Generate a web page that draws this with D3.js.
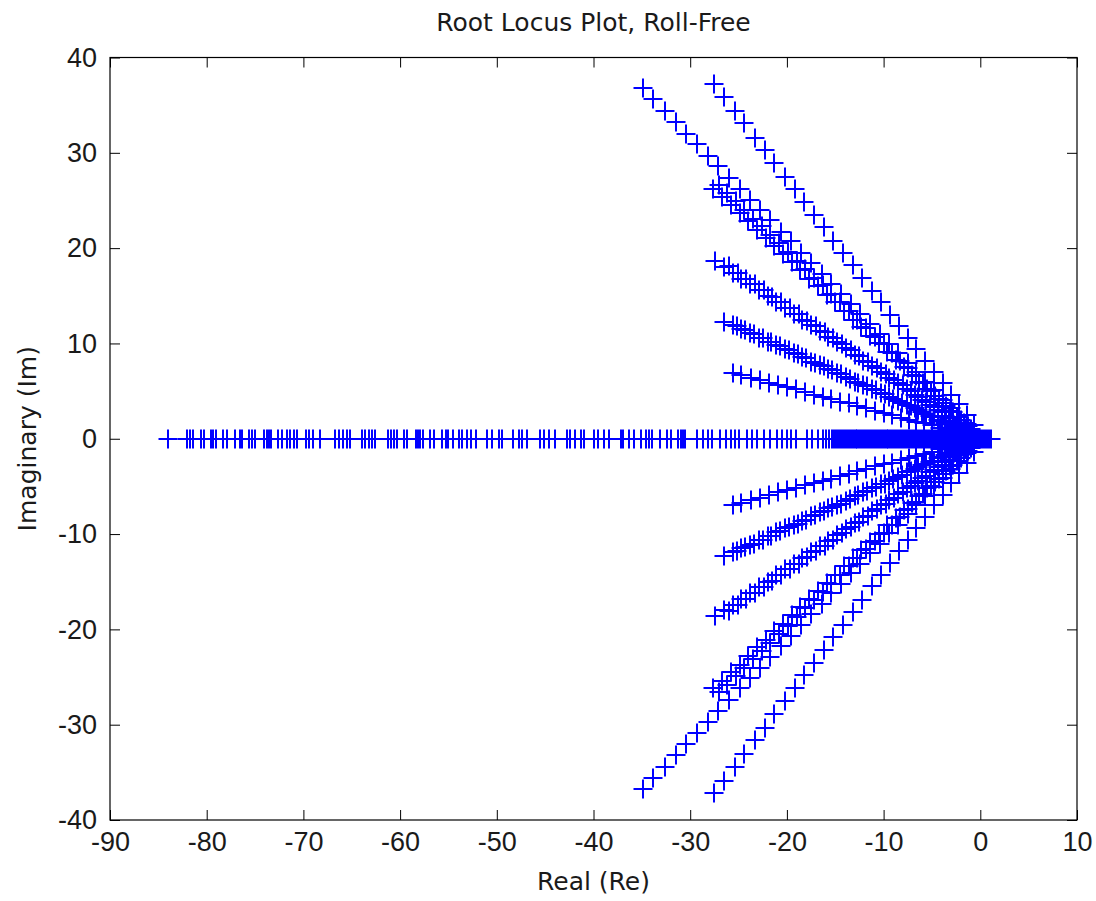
<!DOCTYPE html>
<html>
<head>
<meta charset="utf-8">
<script src="https://cdn.jsdelivr.net/npm/d3@7"></script>
<style>
  html, body { margin: 0; padding: 0; background: #fff; }
  svg { display: block; }
</style>
</head>
<body>
<div id="chart"></div>
<script>
// ---------- DATA ----------
const xTicks = [-90, -80, -70, -60, -50, -40, -30, -20, -10, 0, 10];
const yTicks = [-40, -30, -20, -10, 0, 10, 20, 30, 40];

// Roots on the real axis (Re values, Im = 0)
const realRoots = [-84.0, -82.0, -81.7, -81.4, -80.6, -80.3, -79.6, -79.4, -79.0, -78.3, -77.9, -77.1, -76.6, -76.3,
  -75.6, -75.3, -75.0, -74.1, -73.8, -73.6, -73.4, -72.6, -72.2, -71.7, -71.4, -71.0, -70.7, -69.7, -69.4, -69.0,
  -68.3, -66.7, -66.3, -65.9, -65.5, -65.2, -63.9, -63.6, -63.2, -62.9, -62.6, -61.2, -60.9, -60.6, -60.3, -59.6,
  -59.3, -58.4, -58.1, -57.9, -57.6, -56.9, -56.5, -55.7, -55.3, -55.0, -54.5, -53.9, -53.6, -53.1, -52.7, -52.2,
  -51.0, -50.5, -49.8, -49.5, -48.3, -47.7, -47.4, -46.9, -45.5, -45.1, -44.6, -44.0, -42.7, -42.4, -41.9, -41.3,
  -41.0, -40.0, -39.5, -38.9, -38.4, -37.2, -36.9, -36.3, -35.8, -35.1, -34.6, -34.3, -33.9, -33.1, -32.4, -32.0,
  -31.3, -31.0, -30.7, -30.5, -29.3, -28.7, -28.2, -27.7, -26.9, -26.3, -25.8, -25.4, -25.0, -24.1, -23.6, -23.1,
  -22.4, -21.7, -21.0, -20.5, -20.0, -19.6, -19.1, -17.9, -17.4, -16.8, -16.3, -16.0, -15.6,
  -15.3, -15.1, -14.9, -14.7, -14.5, -14.3, -14.1, -13.9, -13.7, -13.5, -13.3, -13.1, -12.9, -12.7, -12.5, -12.3,
  -12.1, -11.9, -11.7, -11.5, -11.3, -11.1, -10.9, -10.7, -10.5, -10.3, -10.1, -9.9, -9.7, -9.5, -9.3, -9.1,
  -8.9, -8.7, -8.5, -8.3, -8.1, -7.9, -7.7, -7.5, -7.3, -7.1, -6.9, -6.7, -6.5, -6.3, -6.1, -5.9, -5.7, -5.5,
  -5.3, -5.1, -4.9, -4.7, -4.5, -4.3, -4.1, -3.9, -3.7, -3.5, -3.3, -3.1, -2.9, -2.7, -2.5, -2.3, -2.1, -1.9,
  -1.7, -1.5, -1.3, -1.1, -0.9, -0.7, -0.5, -0.3, -0.1, 0.1, 0.3, 0.5, 0.7, 0.9, 1.1];

// Complex branches (upper half, Im > 0); each root has its conjugate in the lower half
const branchB_re = [-27.5, -26.5, -25.4, -24.4, -23.3, -22.3, -21.3, -20.2, -19.2, -18.2, -17.2, -16.2, -15.2, -14.2,
  -13.2, -12.2, -11.2, -10.3, -9.3, -8.4, -7.5, -6.6, -5.7, -4.8, -3.9, -3.0, -2.2, -1.4, -0.6];
const branchB_im = [37.2, 35.9, 34.4, 33.1, 31.6, 30.3, 28.9, 27.5, 26.2, 24.8, 23.5, 22.2, 20.8, 19.5,
  18.2, 16.9, 15.5, 14.3, 13.0, 11.8, 10.6, 9.4, 8.2, 7.0, 5.9, 4.6, 3.6, 2.5, 1.4];

const branchA_re = [-34.9, -33.8, -32.6, -31.5, -30.4, -29.3, -28.2, -27.1, -26.0, -24.9, -23.8, -22.8, -21.7, -20.6,
  -19.6, -18.5, -17.5, -16.4, -15.4, -14.4, -13.4, -12.4, -11.4, -10.4, -9.4, -8.5, -7.5, -6.6, -5.7, -4.8, -3.9,
  -3.0, -2.2, -1.4];
const branchA_im = [36.8, 35.6, 34.4, 33.2, 32.0, 30.9, 29.7, 28.6, 27.4, 26.2, 25.1, 24.0, 22.9, 21.7,
  20.7, 19.5, 18.4, 17.3, 16.2, 15.2, 14.1, 13.1, 12.0, 11.0, 9.9, 9.0, 7.9, 7.0, 6.0, 5.1, 4.1,
  3.2, 2.3, 1.5];

const branchC1_re = [-27.6, -26.7, -25.8, -24.9, -24.0, -23.1, -22.2, -21.3, -20.4, -19.5, -18.6, -17.7, -16.8, -15.9,
  -15.0, -14.1, -13.2, -12.3, -11.4, -10.5, -9.6, -8.7, -7.9, -7.1, -6.3, -5.5, -4.7, -3.9, -3.1, -2.4, -1.7, -1.0];
const branchC1_im = [26.2, 25.4, 24.5, 23.7, 22.8, 21.9, 21.1, 20.2, 19.4, 18.5, 17.7, 16.8, 16.0, 15.1,
  14.3, 13.4, 12.5, 11.7, 10.8, 10.0, 9.1, 8.3, 7.5, 6.7, 6.0, 5.2, 4.5, 3.7, 2.9, 2.3, 1.6, 1.0];

const branchC2_re = [-27.0, -26.2, -25.3, -24.4, -23.5, -22.6, -21.7, -20.8, -19.9, -19.0, -18.1, -17.2, -16.3, -15.4,
  -14.5, -13.6, -12.7, -11.8, -10.9, -10.0, -9.1, -8.3, -7.5, -6.7, -5.9, -5.1, -4.3, -3.5, -2.8, -2.0, -1.3];
const branchC2_im = [26.6, 25.8, 24.9, 24.0, 23.1, 22.3, 21.4, 20.5, 19.6, 18.7, 17.8, 16.9, 16.1, 15.2,
  14.3, 13.4, 12.5, 11.6, 10.7, 9.9, 9.0, 8.2, 7.4, 6.6, 5.8, 5.0, 4.2, 3.4, 2.8, 2.0, 1.3];

const branchD1_re = [-27.4, -26.5, -25.6, -24.7, -23.8, -22.9, -22.0, -21.1, -20.2, -19.3, -18.4, -17.5, -16.6, -15.7,
  -14.8, -13.9, -13.0, -12.1, -11.2, -10.3, -9.4, -8.5, -7.6, -6.8, -6.0, -5.2, -4.4, -3.6, -2.8, -2.0, -1.2];
const branchD1_im = [18.6, 18.0, 17.4, 16.8, 16.2, 15.6, 15.0, 14.3, 13.7, 13.1, 12.5, 11.9, 11.3, 10.7,
  10.1, 9.5, 8.8, 8.2, 7.6, 7.0, 6.4, 5.8, 5.2, 4.6, 4.1, 3.5, 3.0, 2.4, 1.9, 1.4, 0.8];

const branchD2_re = [-26.0, -25.1, -24.2, -23.3, -22.4, -21.5, -20.6, -19.7, -18.8, -17.9, -17.0, -16.1, -15.2, -14.3,
  -13.4, -12.5, -11.6, -10.7, -9.8, -8.9, -8.0, -7.2, -6.4, -5.6, -4.8, -4.0, -3.2, -2.4, -1.6];
const branchD2_im = [18.1, 17.4, 16.8, 16.2, 15.6, 14.9, 14.3, 13.7, 13.1, 12.4, 11.8, 11.2, 10.6, 9.9,
  9.3, 8.7, 8.1, 7.4, 6.8, 6.2, 5.6, 5.0, 4.4, 3.9, 3.3, 2.8, 2.2, 1.7, 1.1];

const branchE1_re = [-26.5, -25.6, -24.7, -23.8, -22.9, -22.0, -21.1, -20.2, -19.3, -18.4, -17.5, -16.6, -15.7, -14.8,
  -13.9, -13.0, -12.1, -11.2, -10.3, -9.4, -8.5, -7.6, -6.8, -6.0, -5.2, -4.4, -3.6, -2.8, -2.0, -1.2];
const branchE1_im = [12.3, 11.9, 11.5, 11.1, 10.6, 10.2, 9.8, 9.4, 9.0, 8.6, 8.1, 7.7, 7.3, 6.9,
  6.5, 6.0, 5.6, 5.2, 4.8, 4.4, 4.0, 3.5, 3.2, 2.8, 2.4, 2.0, 1.7, 1.3, 0.9, 0.6];

const branchE2_re = [-25.2, -24.3, -23.4, -22.5, -21.6, -20.7, -19.8, -18.9, -18.0, -17.1, -16.2, -15.3, -14.4, -13.5,
  -12.6, -11.7, -10.8, -9.9, -9.0, -8.1, -7.2, -6.4, -5.6, -4.8, -4.0, -3.2, -2.4, -1.6];
const branchE2_im = [11.8, 11.4, 11.0, 10.6, 10.2, 9.7, 9.3, 8.9, 8.5, 8.0, 7.6, 7.2, 6.8, 6.3,
  5.9, 5.5, 5.1, 4.7, 4.2, 3.8, 3.4, 3.0, 2.6, 2.3, 1.9, 1.5, 1.1, 0.8];

const branchF_re = [-25.6, -24.7, -23.7, -22.8, -21.9, -20.9, -20.0, -19.1, -18.1, -17.2, -16.3, -15.4, -14.5, -13.6,
  -12.7, -11.8, -10.9, -10.0, -9.1, -8.2, -7.4, -6.6, -5.8, -5.0, -4.2, -3.4, -2.6, -1.8, -1.0];
const branchF_im = [6.9, 6.7, 6.4, 6.2, 5.9, 5.6, 5.4, 5.2, 4.9, 4.6, 4.4, 4.2, 3.9, 3.7,
  3.4, 3.2, 2.9, 2.7, 2.5, 2.2, 2.0, 1.8, 1.6, 1.4, 1.1, 0.9, 0.7, 0.5, 0.3];

const branches = [
  [branchB_re, branchB_im], [branchA_re, branchA_im], [branchC1_re, branchC1_im], [branchC2_re, branchC2_im],
  [branchD1_re, branchD1_im], [branchD2_re, branchD2_im], [branchE1_re, branchE1_im], [branchE2_re, branchE2_im],
  [branchF_re, branchF_im]
];

const titleText = "Root Locus Plot, Roll-Free";
const xLabelText = "Real (Re)";
const yLabelText = "Imaginary (Im)";

// ---------- BUILD POINT TABLE ----------
const points = [];
realRoots.forEach(r => points.push({re: r, im: 0}));
branches.forEach(([res, ims]) => {
  res.forEach((r, i) => {
    points.push({re: r, im: ims[i]});
    points.push({re: r, im: -ims[i]});   // complex-conjugate partner
  });
});

// ---------- DRAW ----------
const W = 1096, H = 901;
const L = 110, R = 1077, T = 57.5, B = 820;

const svg = d3.select("#chart").append("svg").attr("width", W).attr("height", H);

const x = d3.scaleLinear().domain([-90, 10]).range([L, R]);
const y = d3.scaleLinear().domain([-40, 40]).range([B, T]);

const tickFont = "Liberation Sans, Arial, sans-serif";
const textColor = "#1a1a1a";

// markers
const plus = "M-9.5,0H9.5M0,-9.5V9.5";
svg.append("g")
  .selectAll("path")
  .data(points)
  .join("path")
  .attr("d", plus)
  .attr("transform", d => `translate(${Math.round(x(d.re))},${Math.round(y(d.im))})`)
  .attr("fill", "none")
  .attr("stroke", "#0000ff")
  .attr("stroke-width", 2);

function styleAxis(g, showLabels) {
  g.select(".domain").remove();
  g.selectAll(".tick line").attr("stroke", "#000").attr("stroke-width", 1);
  g.selectAll(".tick text")
    .attr("fill", textColor)
    .style("font-family", tickFont)
    .style("font-size", "27px");
  if (!showLabels) g.selectAll(".tick text").remove();
}

const fmt = d => String(d);

svg.append("g").attr("transform", `translate(0,${B})`)
  .call(d3.axisBottom(x).tickValues(xTicks).tickFormat(fmt).tickSizeInner(-10).tickSizeOuter(0).tickPadding(12))
  .call(g => styleAxis(g, true));
svg.append("g").attr("transform", `translate(0,${T})`)
  .call(d3.axisTop(x).tickValues(xTicks).tickFormat(fmt).tickSizeInner(-10).tickSizeOuter(0))
  .call(g => styleAxis(g, false));
svg.append("g").attr("transform", `translate(${L},0)`)
  .call(d3.axisLeft(y).tickValues(yTicks).tickFormat(fmt).tickSizeInner(-10).tickSizeOuter(0).tickPadding(13))
  .call(g => styleAxis(g, true));
svg.append("g").attr("transform", `translate(${R},0)`)
  .call(d3.axisRight(y).tickValues(yTicks).tickFormat(fmt).tickSizeInner(-10).tickSizeOuter(0))
  .call(g => styleAxis(g, false));

// box
svg.append("rect")
  .attr("x", L).attr("y", T).attr("width", R - L).attr("height", B - T)
  .attr("fill", "none").attr("stroke", "#000").attr("stroke-width", 1.2);

const labelFont = "DejaVu Sans, Verdana, sans-serif";
svg.append("text")
  .attr("x", (L + R) / 2).attr("y", 31)
  .attr("text-anchor", "middle")
  .attr("fill", textColor)
  .style("font-family", labelFont).style("font-size", "25px")
  .text(titleText);

svg.append("text")
  .attr("x", (L + R) / 2).attr("y", 890)
  .attr("text-anchor", "middle")
  .attr("fill", textColor)
  .style("font-family", labelFont).style("font-size", "25px")
  .text(xLabelText);

svg.append("text")
  .attr("transform", `translate(36,${(T + B) / 2}) rotate(-90)`)
  .attr("text-anchor", "middle")
  .attr("fill", textColor)
  .style("font-family", labelFont).style("font-size", "25px")
  .text(yLabelText);
</script>
</body>
</html>
